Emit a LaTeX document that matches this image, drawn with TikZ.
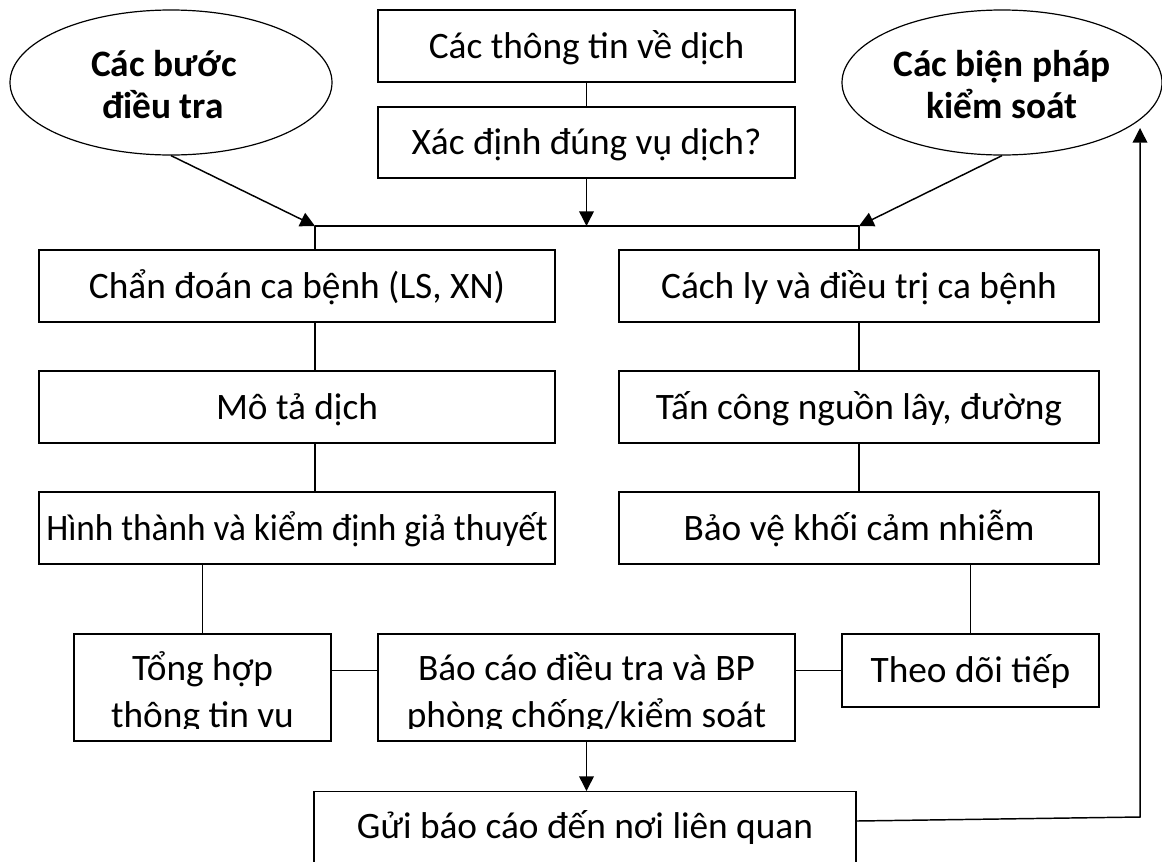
\documentclass[tikz,border=0pt]{standalone}
\usepackage{fontspec}
\setmainfont{Carlito}
\usetikzlibrary{shapes.geometric,arrows.meta,calc}
\begin{document}
\begin{tikzpicture}[x=0.75pt,y=-0.75pt,
  every node/.style={font=\fontsize{28pt}{33pt}\selectfont},
  conn/.style={line width=1.1pt},
  arr/.style={line width=1.1pt,-{Triangle[length=11pt,width=11pt]}},
  box/.style={draw,line width=1.1pt,inner sep=0pt,text height=18pt,text depth=0pt},
  oval/.style={draw,ellipse,line width=0.9pt,inner sep=0pt},
  txt/.style={inner sep=0pt,anchor=base},
  btxt/.style={inner sep=0pt,anchor=base,font=\fontsize{28pt}{33pt}\selectfont\bfseries}]
\useasboundingbox (0,0) rectangle (1162,861);
\clip (0,0) rectangle (1162,861);

% ellipses
\node[oval,minimum width=241.5pt,minimum height=108.75pt] (steps) at (171,82.5) {};
\node[btxt] (steps1) at (164,76) {Các bước};
\node[btxt] (steps2) at (163,118) {điều tra};
\node[oval,minimum width=240pt,minimum height=108.75pt] (ctrl) at (1002,82.5) {};
\node[btxt] (ctrl1) at (1002,76) {Các biện pháp};
\node[btxt] (ctrl2) at (1002,118) {kiểm soát};

% top boxes
\node[box,minimum width=312.75pt,minimum height=54pt] (info) at (586.5,46) {Các thông tin về dịch};
\node[box,minimum width=312.75pt,minimum height=53.25pt] (xd) at (586.5,142.5) {Xác định đúng vụ dịch?};

% left column
\node[box,minimum width=387pt,minimum height=54pt] (cd) at (297,286) {Chẩn đoán ca bệnh (LS, XN)};
\node[box,minimum width=387pt,minimum height=54pt] (mt) at (297,407) {Mô tả dịch};
\node[box,minimum width=387pt,minimum height=54pt] (ht) at (297,528) {\scalebox{0.945}[1]{Hình thành và kiểm định giả thuyết}};

% right column
\node[box,minimum width=360pt,minimum height=54pt] (cl) at (859,286) {Cách ly và điều trị ca bệnh};
\node[box,minimum width=360pt,minimum height=54pt] (tc) at (859,407) {Tấn công nguồn lây, đường};
\node[box,minimum width=360pt,minimum height=54pt] (bv) at (859,528) {Bảo vệ khối cảm nhiễm};

% bottom row
\node[box,minimum width=192.75pt,minimum height=80.25pt] (th) at (202.5,687.5) {};
\begin{scope}
  \clip (74,634) rectangle (331,728);
  \node[txt] (th1) at (202.5,680) {Tổng hợp};
  \node[txt] (th2) at (202.5,727) {thông tin vụ};
\end{scope}
\node[box,minimum width=312.75pt,minimum height=80.25pt] (bc) at (586.5,687.5) {};
\begin{scope}
  \clip (378,634) rectangle (795,728);
  \node[txt] (bc1) at (586.5,680) {Báo cáo điều tra và BP};
  \node[txt] (bc2) at (586.5,727) {phòng chống/kiểm soát};
\end{scope}
\node[box,minimum width=192.75pt,minimum height=54.75pt] (td) at (970.5,670.5) {Theo dõi tiếp};
\node[box,anchor=north,minimum width=406.5pt,minimum height=81.75pt,text depth=30pt] (gui) at (585,791) {Gửi báo cáo đến nơi liên quan};

% junction coordinates
\coordinate (jl) at (315,226);
\coordinate (jr) at (859,226);
\coordinate (fbstart) at ($(gui.north east)+(0,30)$);
\coordinate (fbcorner) at (1140,817);
\coordinate (fbtip) at (1140,128);

% connectors
\draw[conn] (info.south) -- (xd.north);
\draw[arr] (xd.south) -- (xd.south |- jl);
\draw[arr] (steps.south) -- (jl);
\draw[arr] (ctrl.south) -- (jr);
\draw[conn] (jl) -- (jr);
\draw[conn] (jl) -- (jl |- cd.north);
\draw[conn] (jr) -- (cl.north);
\draw[conn] (jl |- cd.south) -- (jl |- mt.north);
\draw[conn] (jl |- mt.south) -- (jl |- ht.north);
\draw[conn] (cl.south) -- (tc.north);
\draw[conn] (tc.south) -- (bv.north);
\draw[conn] (th.north |- ht.south) -- (th.north);
\draw[conn] (td.north |- bv.south) -- (td.north);
\draw[conn] (th.east |- td.west) -- (bc.west |- td.west);
\draw[conn] (bc.east |- td.west) -- (td.west);
\draw[arr] (bc.south) -- (bc.south |- gui.north);
\draw[arr] (fbstart) -- (fbcorner) -- (fbtip);
\end{tikzpicture}
\end{document}
